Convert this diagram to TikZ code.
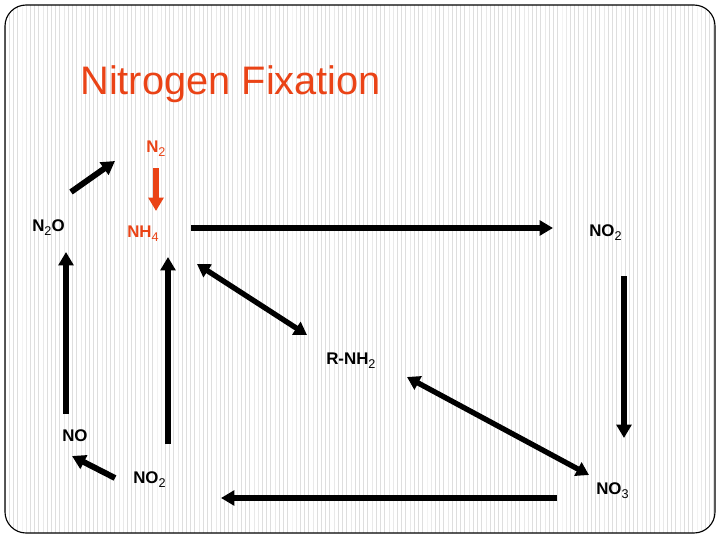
\documentclass[tikz,border=0pt]{standalone}
\usepackage{fontspec}
\setmainfont{Liberation Sans}
\usetikzlibrary{arrows.meta, patterns}
\definecolor{fixred}{RGB}{234, 67, 22}
\definecolor{stripegray}{RGB}{222, 222, 222}
\newcommand{\lowsub}[1]{\raisebox{-3.2pt}{\mdseries\fontsize{9}{9}\selectfont #1}}

\begin{document}
\begin{tikzpicture}[
        x=0.025cm, y=-0.025cm,
        species/.style={anchor=base west, inner sep=0pt, font=\bfseries\fontsize{12}{14}\selectfont},
        arrow/.style={-{Triangle[length=9.5pt, width=10.5pt]}, line width=4.2pt},
        twoway/.style={{Triangle[length=9pt, width=10.5pt]}-{Triangle[length=9pt, width=10.5pt]}, line width=3.8pt}
    ]
        \useasboundingbox (0,0) rectangle (720,540);

        % Slide frame
        \draw[line width=0.8pt, rounded corners=15pt, preaction={fill=white}, pattern=vertical lines, pattern color=stripegray] (5,5) rectangle (715,533);

        % Title
        \node[anchor=base west, inner sep=0pt, font=\fontsize{28.3}{32}\selectfont, text=fixred] (title) at (80,94) {Nitrogen Fixation};

        % Species
        \node[species, text=fixred] (ntwo) at (146,152) {N\lowsub{2}};
        \node[species] (ntwoo) at (32,231) {N\lowsub{2}O};
        \node[species, text=fixred] (nhfour) at (127,237) {NH\lowsub{4}};
        \node[species] (notwotop) at (589,236) {NO\lowsub{2}};
        \node[species] (rnhtwo) at (326,364) {R-NH\lowsub{2}};
        \node[species] (nomono) at (62,441) {NO};
        \node[species] (notwobot) at (133,483) {NO\lowsub{2}};
        \node[species] (nothree) at (596,494) {NO\lowsub{3}};

        % Arrow ends
        \coordinate (ntwooout) at (71,192);
        \coordinate (ntwoin) at (115,161);
        \coordinate (ntwoout) at (156,168);
        \coordinate (nhfourin) at (156,211);
        \coordinate (nhfourout) at (191,228);
        \coordinate (notwotopin) at (553,228);
        \coordinate (notwotopout) at (624,276);
        \coordinate (nothreein) at (624,438);
        \coordinate (nhfourside) at (197,264);
        \coordinate (rnhtwoup) at (307,335);
        \coordinate (rnhtwodown) at (407,377);
        \coordinate (nothreeside) at (589,475);
        \coordinate (nothreeout) at (557,498);
        \coordinate (notwobotin) at (221,498);
        \coordinate (notwobotout) at (115,478);
        \coordinate (nomonoin) at (72,456);
        \coordinate (nomonoout) at (66,414);
        \coordinate (ntwooin) at (66,252);
        \coordinate (notwobotup) at (168,444);
        \coordinate (nhfourbelow) at (168,257);

        % Arrows
        \draw[arrow] (ntwooout) -- (ntwoin);
        \draw[arrow, fixred] (ntwoout) -- (nhfourin);
        \draw[arrow] (nhfourout) -- (notwotopin);
        \draw[arrow] (notwotopout) -- (nothreein);
        \draw[twoway] (nhfourside) -- (rnhtwoup);
        \draw[twoway] (rnhtwodown) -- (nothreeside);
        \draw[arrow] (nothreeout) -- (notwobotin);
        \draw[arrow] (notwobotout) -- (nomonoin);
        \draw[arrow] (nomonoout) -- (ntwooin);
        \draw[arrow] (notwobotup) -- (nhfourbelow);
    \end{tikzpicture}
\end{document}
